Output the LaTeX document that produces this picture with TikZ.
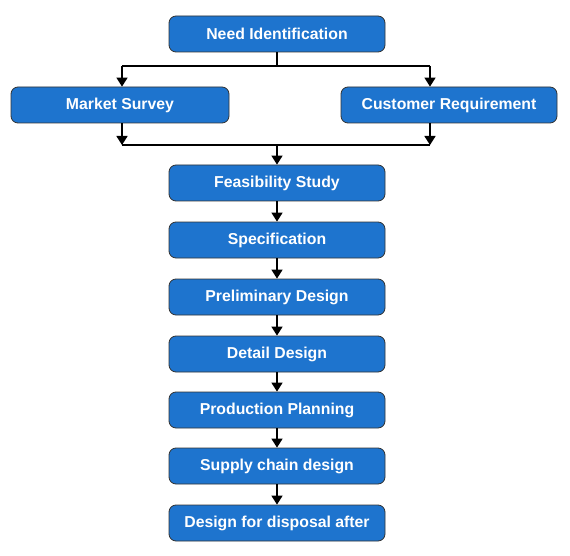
\documentclass[tikz,border=0pt]{standalone}
\usepackage{fontspec}
\setmainfont{Liberation Sans}
\usetikzlibrary{arrows.meta}
\definecolor{boxblue}{RGB}{30,116,206}
\begin{document}
\begin{tikzpicture}[x=1pt,y=-1pt,
  stepbox/.style={draw=black!80,line width=0.8pt,fill=boxblue,rounded corners=7pt,
    minimum width=216pt,minimum height=36pt,inner sep=0pt,
    text=white,font=\fontsize{15.8}{18}\selectfont\bfseries},
  conn/.style={line width=1.6pt,black},
  arr/.style={conn,-{Triangle[width=11pt,length=9pt]}}]
\useasboundingbox (0,0) rectangle (570,556);
\node[stepbox] (need) at (277,34) {Need Identification};
\node[stepbox,minimum width=218pt] (market) at (120,105) {Market Survey};
\node[stepbox] (cust) at (449,105) {Customer Requirement};
\node[stepbox] (feas) at (277,183) {Feasibility Study};
\node[stepbox] (spec) at (277,240) {Specification};
\node[stepbox] (prel) at (277,297) {Preliminary Design};
\node[stepbox] (det) at (277,354) {Detail Design};
\node[stepbox] (prod) at (277,410) {Production Planning};
\node[stepbox] (supp) at (277,466) {Supply chain design};
\node[stepbox] (disp) at (277,523) {Design for disposal after};
\coordinate (tl) at (122,66);
\coordinate (tr) at (430,66);
\coordinate (bl) at (122,145);
\coordinate (br) at (430,145);
\coordinate (bm) at (277,145);
\draw[conn] (need.south) -- (need.south |- tl);
\draw[conn] (tl) -- (tr);
\draw[arr] (tl) -- (tl |- market.north);
\draw[arr] (tr) -- (tr |- cust.north);
\draw[arr] (bl |- market.south) -- (bl);
\draw[arr] (br |- cust.south) -- (br);
\draw[conn] (bl) -- (br);
\draw[arr] (bm) -- (feas.north);
\draw[arr] (feas) -- (spec);
\draw[arr] (spec) -- (prel);
\draw[arr] (prel) -- (det);
\draw[arr] (det) -- (prod);
\draw[arr] (prod) -- (supp);
\draw[arr] (supp) -- (disp);
\end{tikzpicture}
\end{document}
